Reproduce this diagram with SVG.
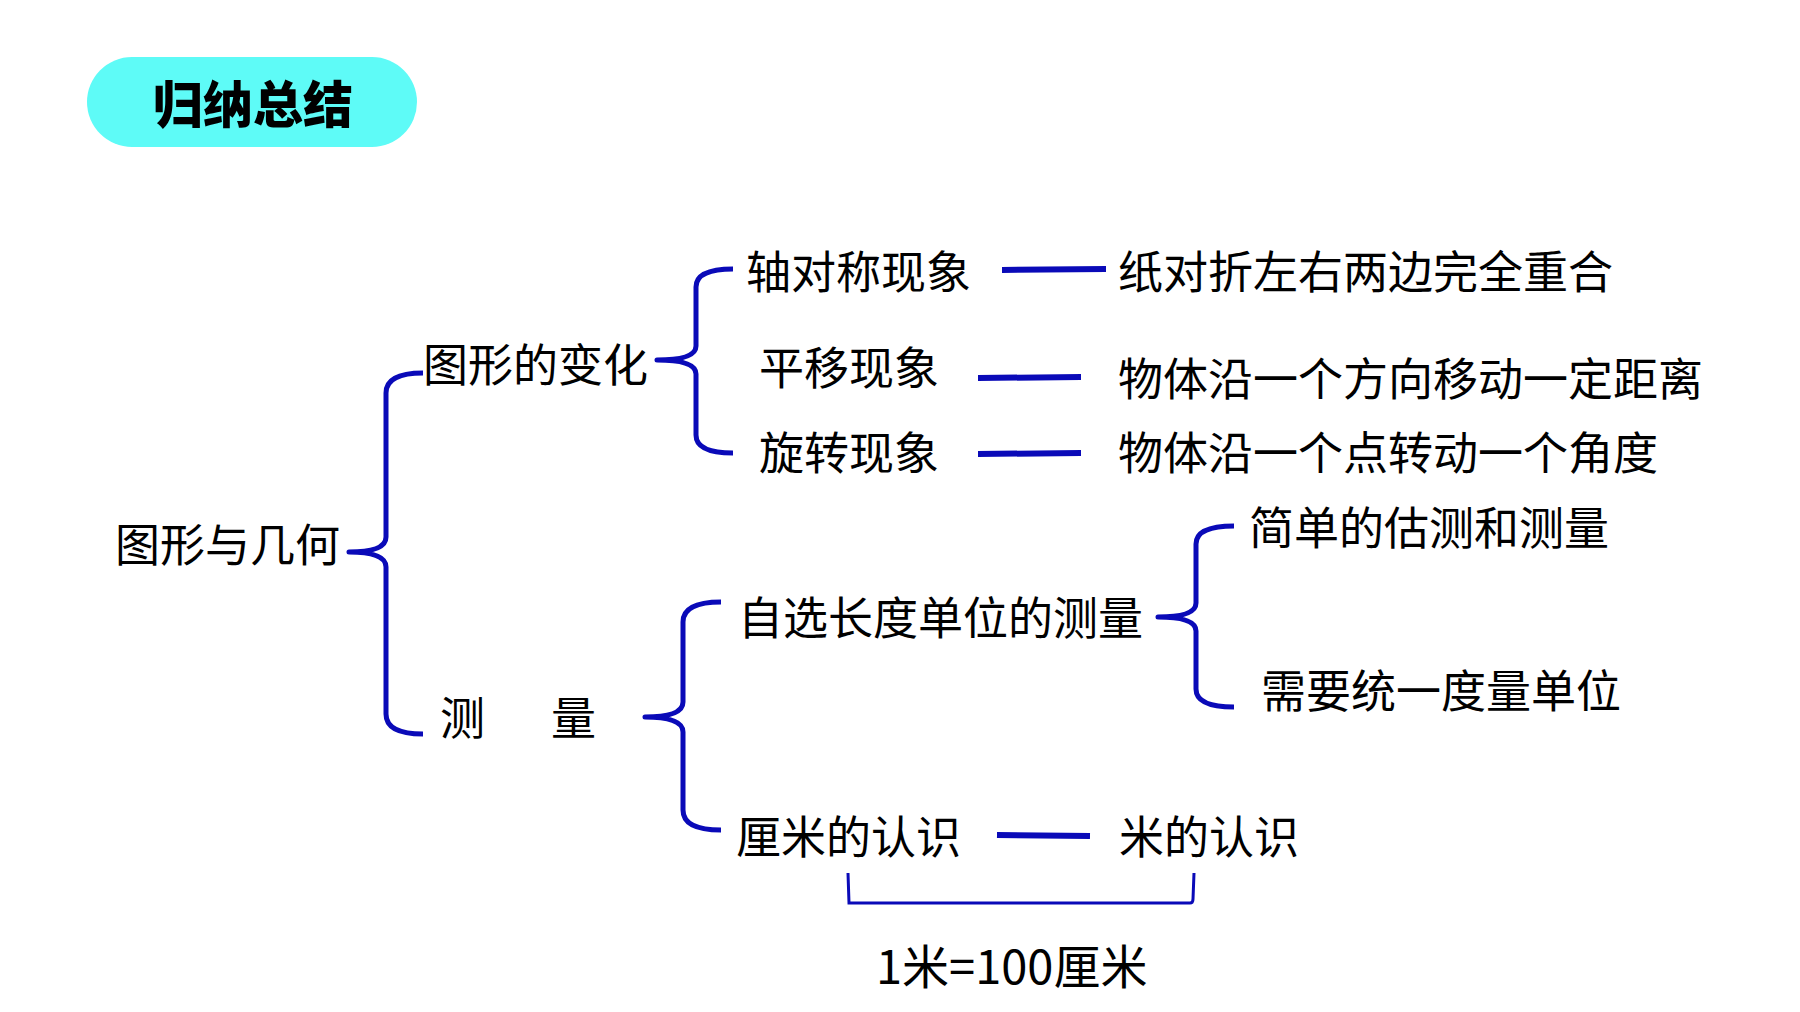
<svg xmlns="http://www.w3.org/2000/svg" width="1800" height="1012" viewBox="0 0 1800 1012">
<style>
.t{font-family:"Noto Sans CJK SC","Noto Sans",sans-serif;font-size:45px;fill:#000}
.eq{font-size:47px}
.title{font-family:"Noto Sans CJK SC","Noto Sans",sans-serif;font-size:50px;font-weight:900;fill:#000}
.br{fill:none;stroke:#0A0AB8;stroke-width:5;stroke-linecap:butt;stroke-linejoin:round}
.ln{fill:none;stroke:#0A0AB8;stroke-width:6}
.thin{fill:none;stroke:#0A0AB8;stroke-width:3}
</style>
<rect width="1800" height="1012" fill="#fff"/>
<g id="title">
<rect x="87" y="57" width="330" height="90" rx="45" ry="45" fill="#5EFBF7"/>
<text class="title" x="253" y="123" text-anchor="middle">归纳总结</text>
</g>
<g id="connectors">
<path class="br" d="M423,373 Q386,373 386,393 L386,537 Q386,552 349,552 Q386,552 386,567 L386,714 Q386,734 423,734"/>
<path class="br" d="M733,269 Q696,269 696,287 L696,346 Q696,360 657,360 Q696,360 696,374 L696,435 Q696,453 733,453"/>
<path class="br" d="M721,602 Q683,602 683,622 L683,702 Q683,717 645,717 Q683,717 683,732 L683,810 Q683,830 721,830"/>
<path class="br" d="M1234,526 Q1196,526 1196,544 L1196,603 Q1196,617 1158,617 Q1196,617 1196,631 L1196,689 Q1196,707 1234,707"/>
<line class="ln" x1="1002" y1="270" x2="1106" y2="269"/>
<line class="ln" x1="978" y1="378" x2="1081" y2="377"/>
<line class="ln" x1="978" y1="454" x2="1081" y2="453"/>
<line class="ln" x1="997" y1="835" x2="1090" y2="836"/>
<path class="thin" d="M848,873 L849,903 L1190,903 Q1193,903 1193,899 L1194,873"/>
</g>
<g id="n-root"><text class="t" x="115" y="562">图形与几何</text></g>
<g id="n-change"><text class="t" x="423" y="382">图形的变化</text></g>
<g id="n-measure"><text class="t" y="735"><tspan x="440">测</tspan><tspan x="551">量</tspan></text></g>
<g id="n-axis"><text class="t" x="746" y="289">轴对称现象</text></g>
<g id="n-axis-d"><text class="t" x="1118" y="289">纸对折左右两边完全重合</text></g>
<g id="n-trans"><text class="t" x="759" y="385">平移现象</text></g>
<g id="n-trans-d"><text class="t" x="1118" y="396">物体沿一个方向移动一定距离</text></g>
<g id="n-rot"><text class="t" x="759" y="470">旋转现象</text></g>
<g id="n-rot-d"><text class="t" x="1118" y="470">物体沿一个点转动一个角度</text></g>
<g id="n-self"><text class="t" x="738" y="635">自选长度单位的测量</text></g>
<g id="n-est"><text class="t" x="1249" y="545">简单的估测和测量</text></g>
<g id="n-unit"><text class="t" x="1261" y="708">需要统一度量单位</text></g>
<g id="n-cm"><text class="t" x="736" y="854">厘米的认识</text></g>
<g id="n-m"><text class="t" x="1119" y="854">米的认识</text></g>
<g id="n-eq"><text class="t eq" x="876" y="984">1米=100厘米</text></g>
</svg>
